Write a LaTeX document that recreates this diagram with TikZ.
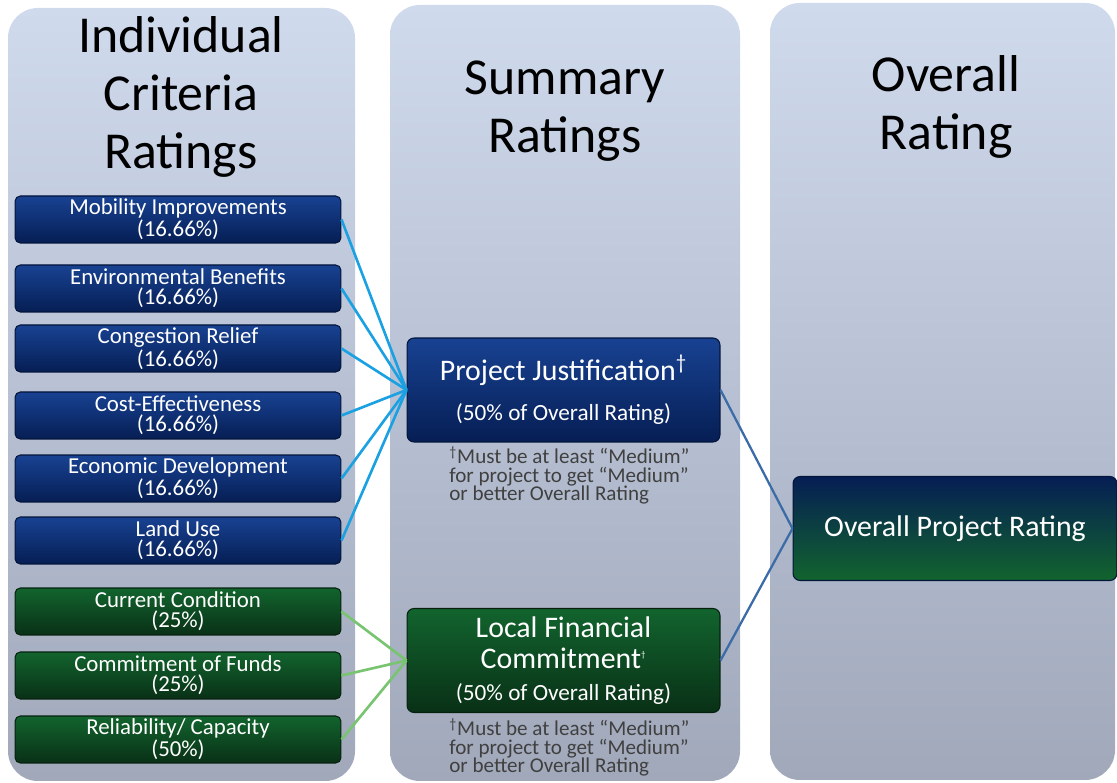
\documentclass[tikz,border=0pt]{standalone}
\usepackage{fontspec}
\setmainfont{Carlito}
\definecolor{colTop}{RGB}{207,218,236}
\definecolor{colBot}{RGB}{160,168,186}
\definecolor{blueTop}{RGB}{24,66,146}
\definecolor{blueBot}{RGB}{6,30,84}
\definecolor{greenTop}{RGB}{18,100,46}
\definecolor{greenBot}{RGB}{9,48,22}
\definecolor{blueLink}{RGB}{27,161,226}
\definecolor{greenLink}{RGB}{120,196,112}
\definecolor{rateLink}{RGB}{60,108,168}
\definecolor{noteGray}{RGB}{64,64,64}
\begin{document}
\begin{tikzpicture}[x=0.02cm,y=-0.02cm,
  column/.style={rounded corners=17pt,top color=colTop,bottom color=colBot},
  heading/.style={align=center,font=\fontsize{29.5}{33}\selectfont},
  critbox/.style={rounded corners=3pt,minimum width=6.52cm,minimum height=0.94cm,inner sep=0pt,
    align=center,text=white,font=\fontsize{13}{11.5}\selectfont,draw=blueBot!70!black,line width=0.6pt},
  bluecrit/.style={critbox,top color=blueTop,bottom color=blueBot},
  greencrit/.style={critbox,top color=greenTop,bottom color=greenBot,draw=greenBot!70!black},
  sumbox/.style={rounded corners=4pt,minimum width=6.26cm,minimum height=2.08cm,inner sep=0pt,
    align=center,text=white,line width=0.6pt},
  note/.style={anchor=north west,align=left,text=noteGray,font=\fontsize{12}{10.5}\selectfont,inner sep=0pt},
  critlink/.style={blueLink,line width=1.5pt},
  fundlink/.style={greenLink,line width=1.5pt},
  ratelink/.style={rateLink,line width=1.3pt}]
\useasboundingbox (0,0) rectangle (1117,783);
\shade[column] (8,8) rectangle (355,781);
\shade[column] (390,5) rectangle (740,781);
\shade[column] (770,3) rectangle (1115,780);
\node[heading] (hcrit) at (181,97) {Individual\\Criteria\\Ratings};
\node[heading] (hsum) at (565,111) {Summary\\Ratings};
\node[heading] (hall) at (946,107) {Overall\\Rating};
\node[bluecrit] (mob) at (178,219.5) {Mobility Improvements\\(16.66\%)};
\node[bluecrit] (env) at (178,288.5) {Environmental Benefits\\(16.66\%)};
\node[bluecrit] (cong) at (178,348.5) {Congestion Relief\\(16.66\%)};
\node[bluecrit] (cost) at (178,415.5) {Cost-Effectiveness\\(16.66\%)};
\node[bluecrit] (econ) at (178,478.5) {Economic Development\\(16.66\%)};
\node[bluecrit] (land) at (178,540.5) {Land Use\\(16.66\%)};
\node[greencrit] (curr) at (178,611.5) {Current Condition\\(25\%)};
\node[greencrit] (comm) at (178,675.5) {Commitment of Funds\\(25\%)};
\node[greencrit] (rel) at (178,739.5) {Reliability/ Capacity\\(50\%)};
\node[sumbox,top color=blueTop,bottom color=blueBot,draw=blueBot!70!black,font=\fontsize{17}{23}\selectfont] (pj) at (563.5,390)
  {Project Justification\textsuperscript{\textdagger}\\{\fontsize{13.2}{16}\selectfont (50\% of Overall Rating)}};
\node[sumbox,top color=greenTop,bottom color=greenBot,draw=greenBot!70!black,font=\fontsize{17}{18}\selectfont] (lfc) at (563.5,660.5)
  {Local Financial\\Commitment\textsuperscript{\tiny\textdagger}\\{\fontsize{13.2}{16}\selectfont (50\% of Overall Rating)}};
\node[sumbox,minimum width=6.48cm,top color=blueBot,bottom color=greenTop,draw=blueBot!70!black,font=\fontsize{17}{20}\selectfont] (opr) at (955,528.5)
  {Overall Project Rating};
\node[note] (pjnote) at (449,446) {\textsuperscript{\textdagger}Must be at least “Medium”\\for project to get “Medium”\\or better Overall Rating};
\node[note] (lfcnote) at (449,718) {\textsuperscript{\textdagger}Must be at least “Medium”\\for project to get “Medium”\\or better Overall Rating};
\foreach \n in {mob,env,cong,cost,econ,land}
  \draw[critlink] (\n.east) -- (pj.west);
\foreach \n in {curr,comm,rel}
  \draw[fundlink] (\n.east) -- (lfc.west);
\draw[ratelink] (pj.east) -- (opr.west);
\draw[ratelink] (lfc.east) -- (opr.west);
\end{tikzpicture}
\end{document}
